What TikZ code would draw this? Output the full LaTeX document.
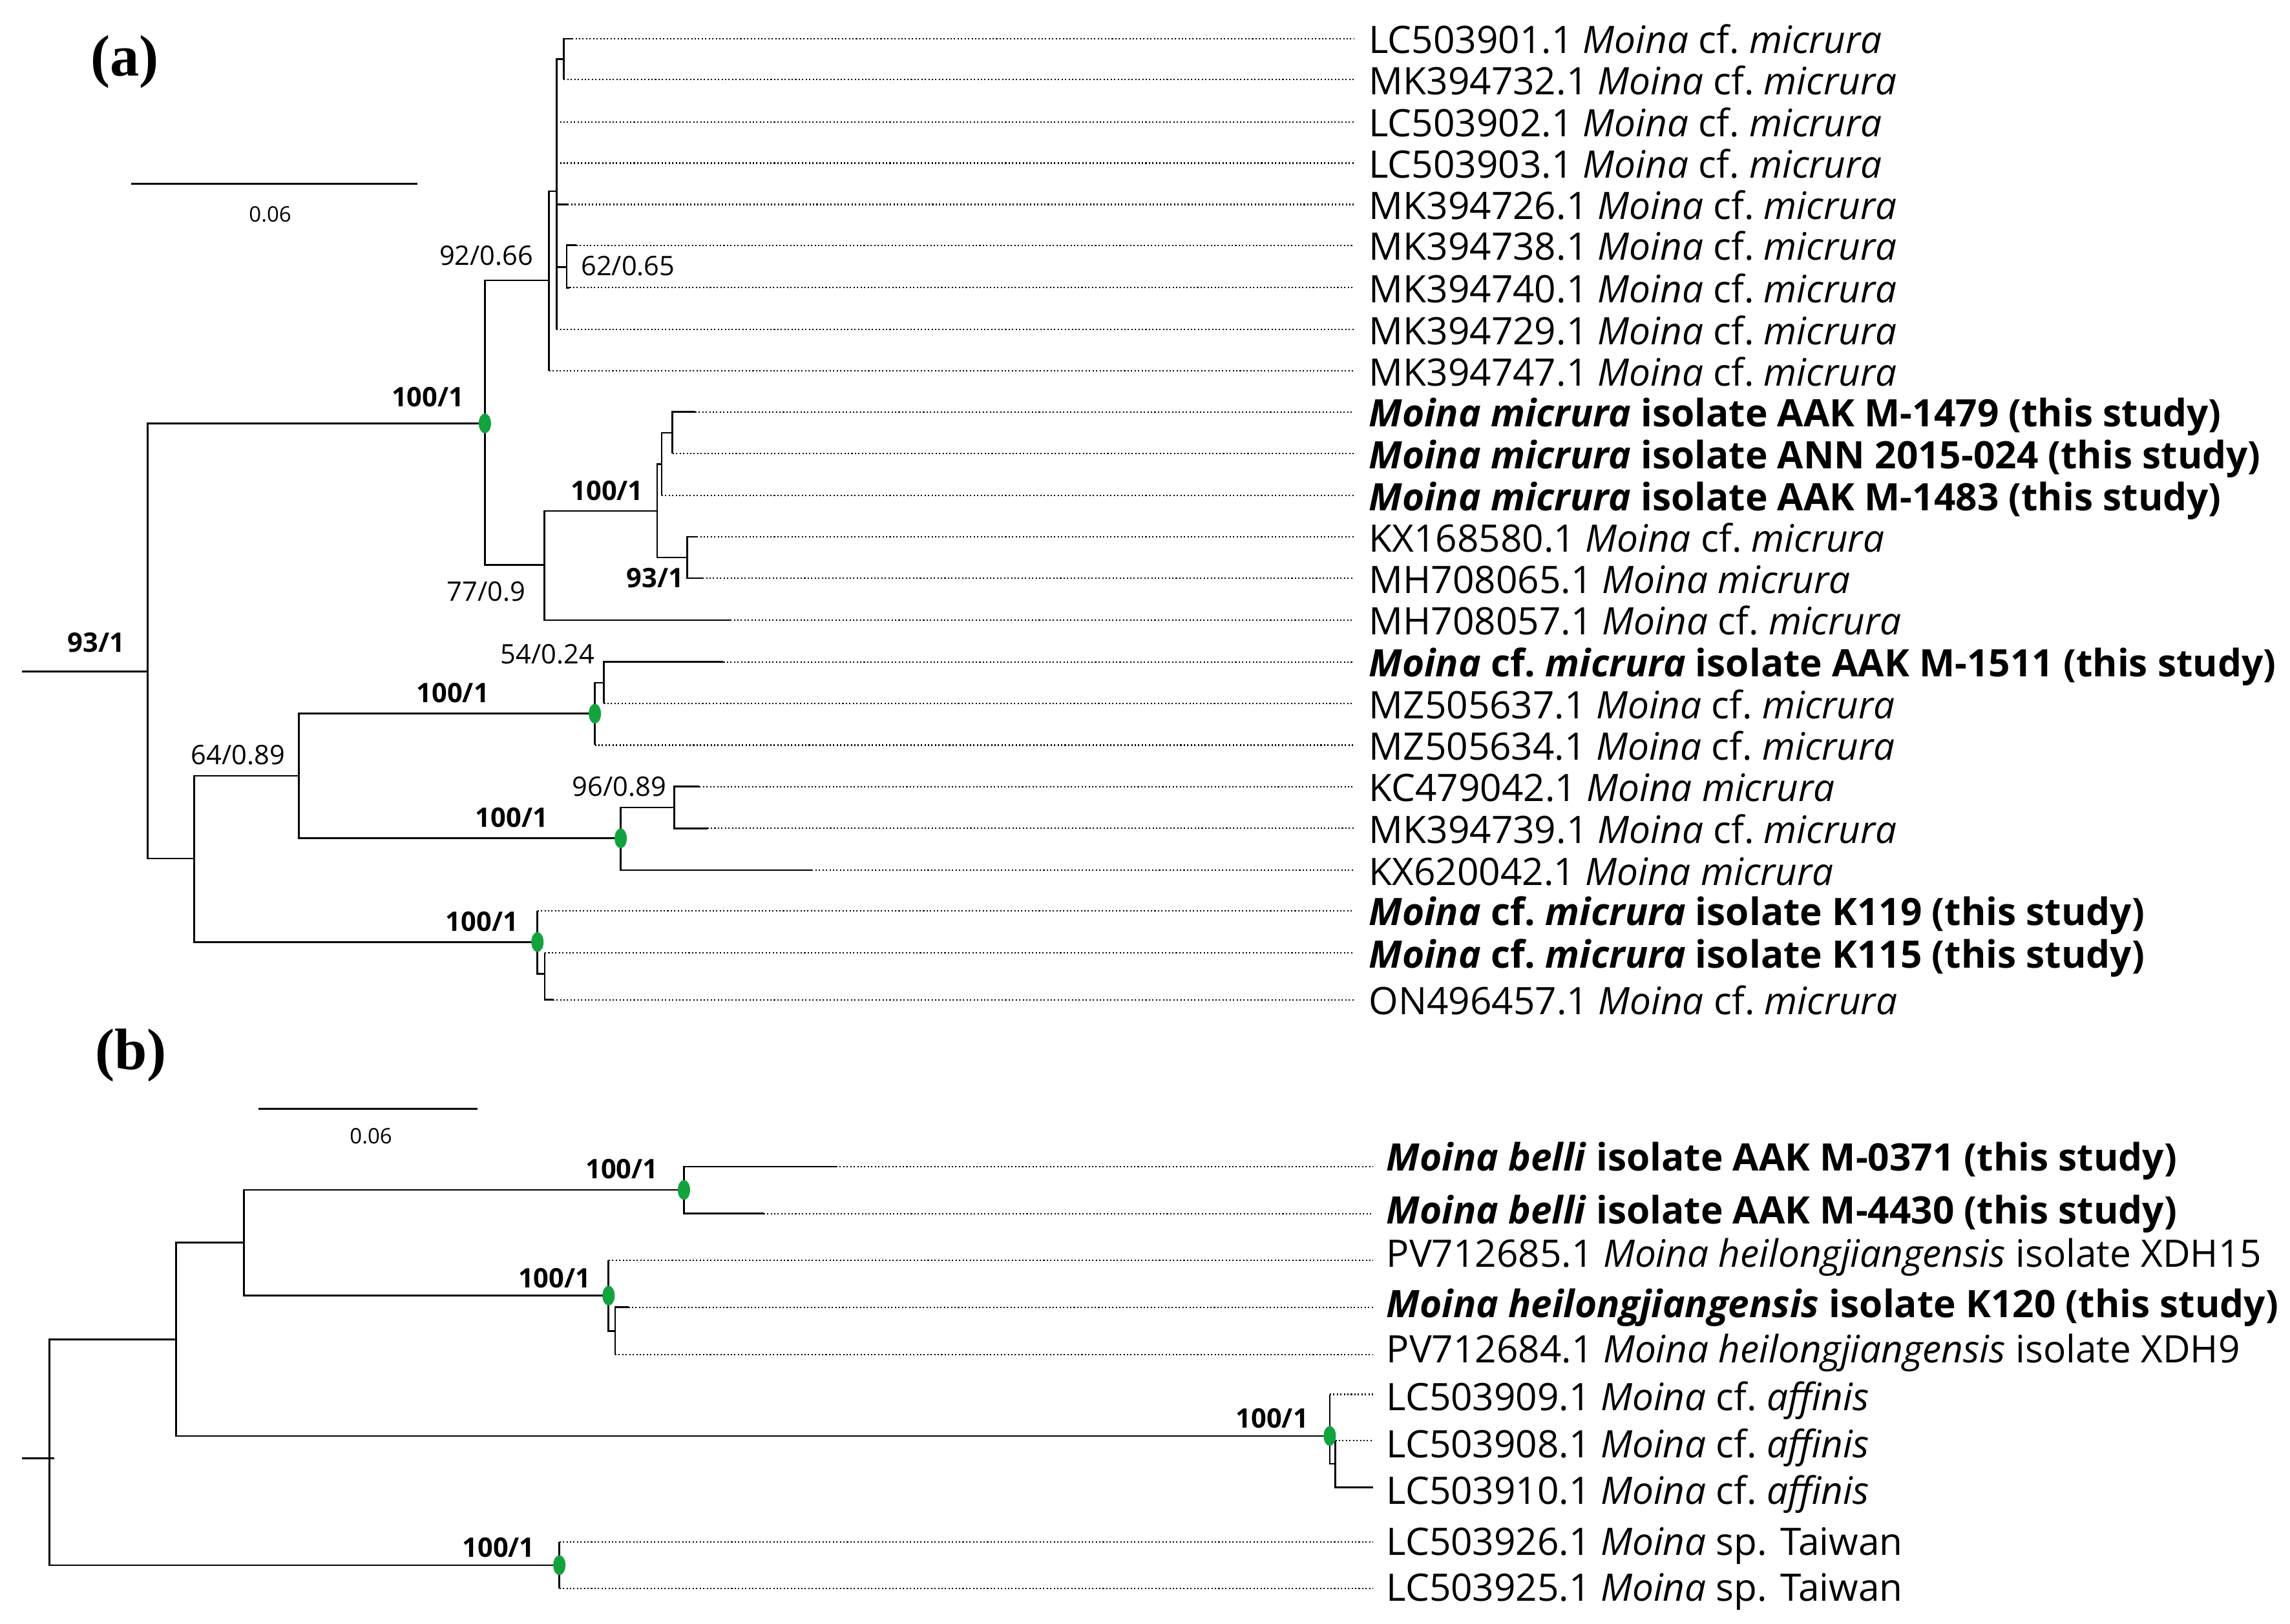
\documentclass[tikz,border=0pt]{standalone}
\usepackage{fontspec}
\setmainfont{Open Sans}
\newfontfamily\panelfont{Liberation Serif}
\usetikzlibrary{shapes.geometric}
\definecolor{supgreen}{RGB}{18,163,62}
\newcommand{\mcfmic}{\textit{Moina} cf.\ \textit{micrura}}
\newcommand{\mmic}{\textit{Moina micrura}}
\newcommand{\mcfaff}{\textit{Moina} cf.\ \textit{affinis}}
\newcommand{\mheil}{\textit{Moina heilongjiangensis}}

\begin{document}
\begin{tikzpicture}[x=0.5pt, y=-0.5pt,
  branch/.style={line width=0.6pt},
  dots/.style={line width=0.5pt, dash pattern=on 0.45pt off 0.75pt},
  tip/.style={anchor=west, inner xsep=5pt, inner ysep=0pt, text height=9.2pt, text depth=0pt, font=\fontsize{12.95}{14}\selectfont},
  sup/.style={ellipse, fill=supgreen, minimum width=4.2pt, minimum height=6.8pt, inner sep=0pt},
  bs/.style={inner sep=0pt, font=\fontsize{9.2}{11}\selectfont},
  bsb/.style={inner sep=0pt, font=\fontsize{9.2}{11}\selectfont\bfseries},
  scl/.style={inner sep=0pt, font=\fontsize{7.3}{9}\selectfont},
  panel/.style={inner sep=0pt, font=\fontsize{20}{24}\selectfont\panelfont\bfseries}]
\useasboundingbox (0,0) rectangle (1568,1112);

% (a)
\node[panel] (pa) at (85.5,42.3) {(a)};
\draw[branch] (90,126) -- (286,126);
\node[scl] (sla) at (185,147) {0.06};

\coordinate (aRs) at (15,460);
\coordinate (aR) at (101,460);
\coordinate (aA) at (332,290);
\coordinate (aB) at (376,192);
\coordinate (aC) at (381,131);
\coordinate (aD) at (386,40.6);
\coordinate (aE) at (388,183);
\coordinate (aF) at (372.6,387);
\coordinate (aG) at (450,350);
\coordinate (aH) at (453,318);
\coordinate (aI) at (460.5,296.4);
\coordinate (aJ) at (470.6,381.8);
\coordinate (aK) at (133,588);
\coordinate (aL) at (204.7,531.4);
\coordinate (aM) at (407.3,488.8);
\coordinate (aN) at (413.5,467.7);
\coordinate (aO) at (425,574.2);
\coordinate (aP) at (461.6,553);
\coordinate (aQ) at (368,645.2);
\coordinate (aS) at (373,667);

\draw[branch] (aRs) -- (aR);
\foreach \from/\to in {aR/aA, aR/aK, aA/aB, aA/aF, aB/aC, aC/aD, aC/aE, aF/aG, aG/aH, aG/aJ, aH/aI,
  aK/aL, aK/aQ, aL/aM, aL/aO, aM/aN, aO/aP, aQ/aS}
  \draw[branch] (\from) |- (\to);

\foreach \up/\y/\e/\lab [count=\i] in {
  aD/26.5/391.6/{LC503901.1 \mcfmic},
  aD/54.5/386/{MK394732.1 \mcfmic},
  aC/83.5/381/{LC503902.1 \mcfmic},
  aC/111.7/381/{LC503903.1 \mcfmic},
  aC/140/388.6/{MK394726.1 \mcfmic},
  aE/168/394.5/{MK394738.1 \mcfmic},
  aE/197/390/{MK394740.1 \mcfmic},
  aC/225.7/381/{MK394729.1 \mcfmic},
  aB/254/376/{MK394747.1 \mcfmic},
  aI/282.2/476/{\textbf{\mmic{} isolate AAK M-1479 (this study)}},
  aI/310.6/460.5/{\textbf{\mmic{} isolate ANN 2015-024 (this study)}},
  aH/339.4/453/{\textbf{\mmic{} isolate AAK M-1483 (this study)}},
  aJ/367.7/477/{KX168580.1 \mcfmic},
  aJ/396/481/{MH708065.1 \mmic},
  aF/424.7/500/{MH708057.1 \mcfmic},
  aN/453.4/495.3/{\textbf{\mcfmic{} isolate AAK M-1511 (this study)}},
  aN/481.9/413.5/{MZ505637.1 \mcfmic},
  aM/510.3/407.3/{MZ505634.1 \mcfmic},
  aP/538.8/478.9/{KC479042.1 \mmic},
  aP/567.3/484.3/{MK394739.1 \mcfmic},
  aO/596/555.9/{KX620042.1 \mmic},
  aQ/623.8/368/{\textbf{\mcfmic{} isolate K119 (this study)}},
  aS/652.6/373/{\textbf{\mcfmic{} isolate K115 (this study)}},
  aS/684.8/378.6/{ON496457.1 \mcfmic}}
{
  \node[tip] (ta\i) at (927,\y+1) {\lab};
  \draw[branch] (\up) |- (\e,\y) coordinate (ea\i);
  \draw[dots] (ea\i) -- (ea\i -| ta\i.west);
}

\node[bsb] (lR) at (66,440) {93/1};
\node[bsb] (lA) at (293,272) {100/1};
\node[bs] (lB) at (333,175) {92/0.66};
\node[bs] (lE) at (430,182) {62/0.65};
\node[bsb] (lG) at (415.7,336) {100/1};
\node[bsb] (lJ) at (448.5,395.7) {93/1};
\node[bs] (lF) at (333,405) {77/0.9};
\node[bs] (lN) at (375,448) {54/0.24};
\node[bsb] (lM) at (310,474.5) {100/1};
\node[bs] (lL) at (163,517) {64/0.89};
\node[bs] (lP) at (424,538.8) {96/0.89};
\node[bsb] (lO) at (350.4,560) {100/1};
\node[bsb] (lQ) at (330,631.4) {100/1};

% (b)
\node[panel] (pb) at (89.5,723) {(b)};
\draw[branch] (177,759.3) -- (326.8,759.3);
\node[scl] (slb) at (254,778.3) {0.06};

\coordinate (bRs) at (15,998.7);
\coordinate (bR) at (34,998.7);
\coordinate (bS) at (120.5,917.5);
\coordinate (bT) at (167,851);
\coordinate (bU) at (468.3,815);
\coordinate (bV) at (416.7,887.4);
\coordinate (bW) at (421.2,911.7);
\coordinate (bX) at (910.5,983.5);
\coordinate (bY) at (914.3,1002.5);
\coordinate (bZ) at (383,1072);

\draw[branch] (bRs) -- (bR) -- +(3,0);
\foreach \from/\to in {bR/bS, bR/bZ, bS/bT, bS/bX, bT/bU, bT/bV, bV/bW, bX/bY}
  \draw[branch] (\from) |- (\to);

\foreach \up/\y/\e/\ty/\lab [count=\i] in {
  bU/799/572.5/792.7/{\textbf{\textit{Moina belli} isolate AAK M-0371 (this study)}},
  bU/831.2/522.8/828.8/{\textbf{\textit{Moina belli} isolate AAK M-4430 (this study)}},
  bV/863.2/416.7/858.8/{PV712685.1 \mheil{} isolate XDH15},
  bW/895.4/430.3/893.2/{\textbf{\mheil{} isolate K120 (this study)}},
  bW/927.7/421.2/924.3/{PV712684.1 \mheil{} isolate XDH9},
  bX/955/910.5/956.8/{LC503909.1 \mcfaff},
  bY/986.5/914.3/989/{LC503908.1 \mcfaff},
  bY/1018.6/940/1021.2/{LC503910.1 \mcfaff},
  bZ/1056/383/1056/{LC503926.1 \textit{Moina} sp. Taiwan},
  bZ/1088/383/1087.5/{LC503925.1 \textit{Moina} sp. Taiwan}}
{
  \node[tip, inner xsep=4.5pt] (tb\i) at (940,\ty) {\lab};
  \draw[branch] (\up) |- (\e,\y) coordinate (eb\i);
  \draw[dots] (eb\i) -- (eb\i -| tb\i.west);
}

\node[bsb] (mU) at (425.8,800.8) {100/1};
\node[bsb] (mV) at (379.7,875.6) {100/1};
\node[bsb] (mX) at (871,971.5) {100/1};
\node[bsb] (mZ) at (341.4,1060) {100/1};

% supported nodes
\foreach \s in {aA,aM,aO,aQ,bU,bV,bX,bZ}
  \node[sup] (dot\s) at (\s) {};
\end{tikzpicture}
\end{document}
